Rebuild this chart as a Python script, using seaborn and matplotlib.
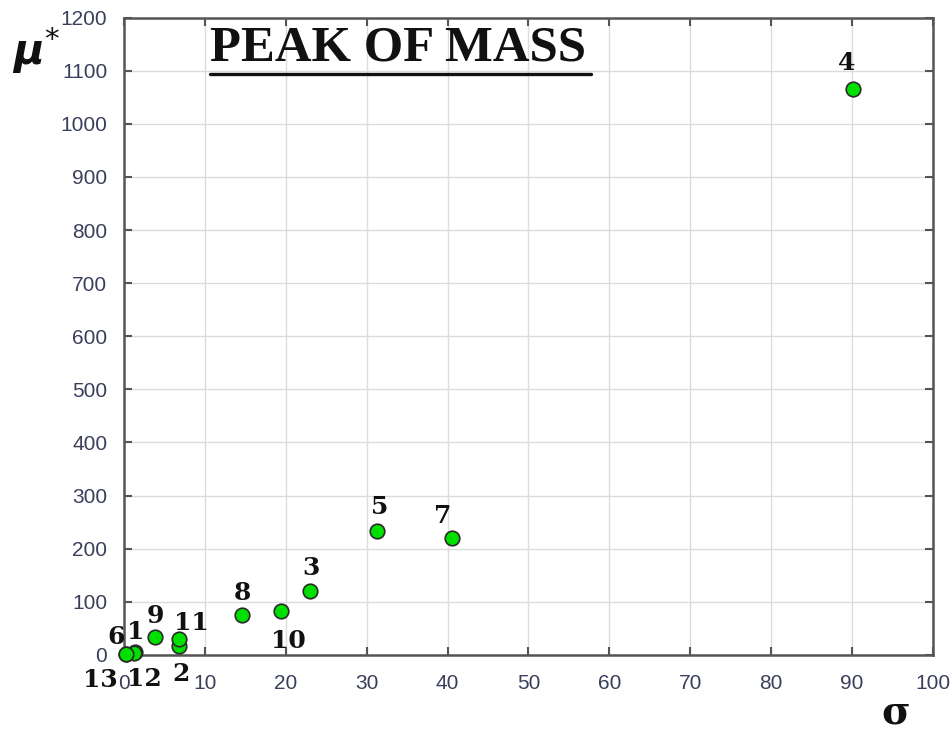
import matplotlib
matplotlib.use("Agg")
import matplotlib.pyplot as plt
import seaborn as sns
import pandas as pd

# data
labels = ["1", "2", "3", "4", "5", "6", "7", "8", "9", "10", "11", "12", "13"]
sigma = [1.4, 6.8, 23.0, 90.1, 31.3, 0.3, 40.5, 14.6, 3.8, 19.4, 6.8, 1.3, 0.2]
mu_star = [5, 17, 120, 1066, 233, 2, 220, 75, 34, 82, 29, 3, 1]
x_ticks = [0, 10, 20, 30, 40, 50, 60, 70, 80, 90, 100]
y_ticks = [0, 100, 200, 300, 400, 500, 600, 700, 800, 900, 1000, 1100, 1200]

# label offsets in pixels (dx, dy; positive dy = up)
label_offsets = {
    "1": (0, 20), "2": (2, -28), "3": (1, 23), "4": (-6, 26), "5": (3, 24),
    "6": (-10, 17), "7": (-9, 22), "8": (0, 22), "9": (1, 21), "10": (8, -30),
    "11": (12, 16), "12": (10, -26), "13": (-25, -26),
}

df = pd.DataFrame({"sigma": sigma, "mu": mu_star, "label": labels})

sns.set_theme(style="whitegrid")
fig, ax = plt.subplots(figsize=(9.53, 7.35), dpi=100)
fig.subplots_adjust(left=0.13, right=0.979, top=0.976, bottom=0.109)

sns.scatterplot(data=df, x="sigma", y="mu", ax=ax, s=110, color="#00e000",
                edgecolor="#2a2a2a", linewidth=1.2, zorder=5, clip_on=False)

for lab, xs, ys in zip(labels, sigma, mu_star):
    dx, dy = label_offsets[lab]
    ax.annotate(lab, (xs, ys), xytext=(dx, dy), textcoords="offset pixels",
                ha="center", va="center", fontsize=18, fontweight="bold",
                family="DejaVu Serif", color="#111111", zorder=6,
                annotation_clip=False)

ax.set_xlim(0, 100)
ax.set_ylim(0, 1200)
ax.set_xticks(x_ticks)
ax.set_yticks(y_ticks)
ax.set_xlabel("")
ax.set_ylabel("")
ax.set_facecolor("white")
ax.grid(True, color="#dcdcdc", linewidth=1.0)
for sp in ax.spines.values():
    sp.set_visible(True)
    sp.set_color("#555555")
    sp.set_linewidth(1.8)
ax.tick_params(axis="both", direction="in", length=6, width=1.5, color="#555555",
               top=True, right=True, bottom=True, left=True,
               labelsize=15, labelcolor="#3a3f5c")
ax.tick_params(axis="x", pad=14)
ax.tick_params(axis="y", pad=12)
for t in ax.get_xticklabels() + ax.get_yticklabels():
    t.set_family("Liberation Sans")
    t.set_zorder(1)

ax.text(0.107, 0.952, "PEAK OF MASS", transform=ax.transAxes, ha="left",
        va="center", fontsize=36.5, fontweight="bold", family="Liberation Serif",
        color="#111111")
ax.plot([0.107, 0.577], [0.912, 0.912], transform=ax.transAxes,
        color="#111111", linewidth=2.4, clip_on=False)

fig.text(0.038, 0.932, r"$\boldsymbol{\mu}^{*}$", fontsize=30, ha="center",
         va="center", color="#111111")
fig.text(0.94, 0.03, "σ", fontsize=28, fontweight="bold",
         family="DejaVu Serif", ha="center", va="center", color="#111111")

fig.savefig("out.png", dpi=100)
